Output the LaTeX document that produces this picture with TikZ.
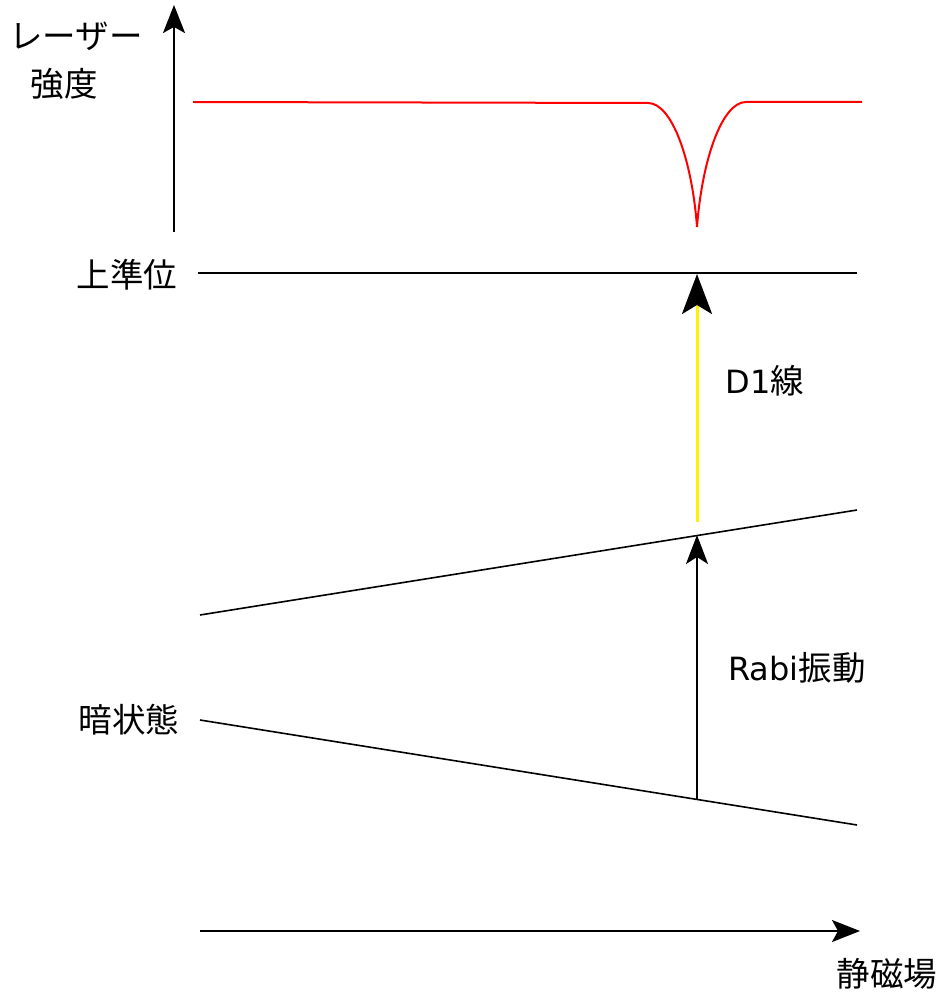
\documentclass[tikz,border=0pt]{standalone}
\usepackage{fontspec}
\setmainfont{Noto Sans CJK JP}
\newfontfamily\latinfont{DejaVu Sans}
\usetikzlibrary{arrows.meta}
\begin{document}
\begin{tikzpicture}[x=1pt,y=-1pt,
  lbl/.style={font=\fontsize{33.5}{38}\selectfont, inner sep=0pt},
  lvl/.style={line width=1.6pt, black},
  axis/.style={line width=2pt, -{Stealth[length=28pt,width=22pt,inset=6pt]}},
  bigtip/.style={-{Stealth[length=40pt,width=30pt,inset=9pt,black]}}
]
\useasboundingbox (0,0) rectangle (944,1000);
% axes
\coordinate (vaxb) at (174,232);
\coordinate (vaxt) at (174,5);
\draw[axis] (vaxb) -- (vaxt);
\coordinate (haxl) at (200,931);
\coordinate (haxr) at (860,931);
\draw[axis] (haxl) -- (haxr);
% labels
\node[lbl] (laser1) at (76,36) {レーザー};
\node[lbl] (laser2) at (64,84) {強度};
\node[lbl] (upper) at (127,275) {上準位};
\node[lbl] (dark) at (129,720) {暗状態};
\node[lbl] (d1) at (765,381) {{\latinfont\fontsize{32}{36}\selectfont D1}線};
\node[lbl] (rabi) at (797,668) {{\latinfont\fontsize{32}{36}\selectfont Rabi}振動};
\node[lbl] (field) at (887,974) {静磁場};
% red laser intensity with dip
\coordinate (r0) at (193,102);
\coordinate (r1) at (648,103);
\coordinate (rd) at (697,227);
\coordinate (r2) at (746,102);
\coordinate (r3) at (862,102);
\draw[red, line width=2pt] (r0) -- (r1)
  .. controls (672,103) and (692,160) .. (rd)
  .. controls (702,160) and (722,102) .. (r2) -- (r3);
% upper level
\coordinate (up1) at (198,273);
\coordinate (up2) at (857,273);
\draw[lvl, line width=1.3pt] (up1) -- (up2);
% ground levels
\coordinate (u1) at (200,615);
\coordinate (u2) at (857,510);
\coordinate (l1) at (200,720);
\coordinate (l2) at (857,825);
\draw[lvl] (u1) -- (u2);
\draw[lvl] (l1) -- (l2);
% D1 transition
\coordinate (d1bot) at (697,522);
\coordinate (d1top) at (697,274);
\draw[yellow, line width=3pt, bigtip] (d1bot) -- (d1top);
% Rabi oscillation
\coordinate (rabibot) at (697,799.4);
\coordinate (rabitop) at (697,535);
\draw[line width=2pt, -{Stealth[length=29pt,width=22pt,inset=7pt]}] (rabibot) -- (rabitop);
\end{tikzpicture}
\end{document}
